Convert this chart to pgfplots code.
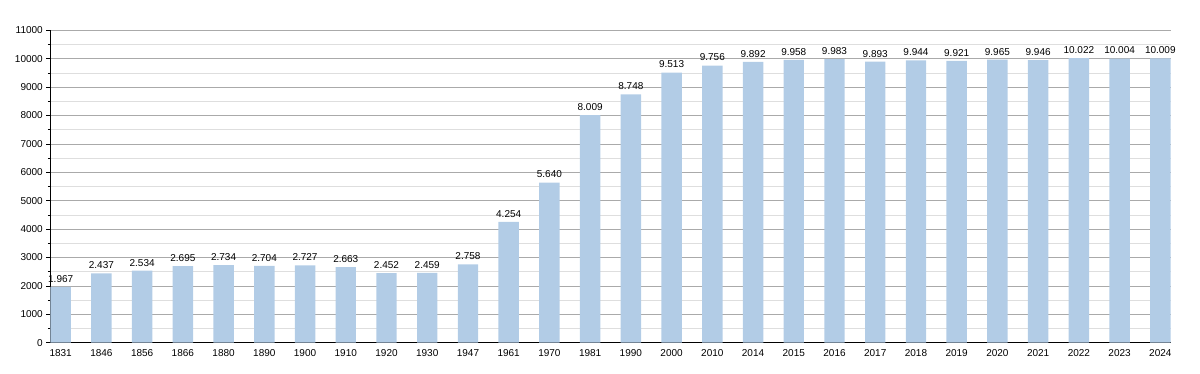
\documentclass[border=0pt]{standalone}
\usepackage{fontspec}
\setmainfont{Liberation Sans}
\usepackage{pgfplots}
\pgfplotsset{compat=1.18}
\usepackage{pgfplotstable}
\definecolor{barc}{RGB}{178,204,230}
\definecolor{majg}{RGB}{170,170,170}
\definecolor{ming}{RGB}{222,222,222}
\pgfplotstableread{
x year val lab
0 1831 1967 1.967
1 1846 2437 2.437
2 1856 2534 2.534
3 1866 2695 2.695
4 1880 2734 2.734
5 1890 2704 2.704
6 1900 2727 2.727
7 1910 2663 2.663
8 1920 2452 2.452
9 1930 2459 2.459
10 1947 2758 2.758
11 1961 4254 4.254
12 1970 5640 5.640
13 1981 8009 8.009
14 1990 8748 8.748
15 2000 9513 9.513
16 2010 9756 9.756
17 2014 9892 9.892
18 2015 9958 9.958
19 2016 9983 9.983
20 2017 9893 9.893
21 2018 9944 9.944
22 2019 9921 9.921
23 2020 9965 9.965
24 2021 9946 9.946
25 2022 10022 10.022
26 2023 10004 10.004
27 2024 10009 10.009
}\datatable
\begin{document}
\begin{tikzpicture}[x=1pt,y=1pt]
\path[use as bounding box] (-50.3,-30.3) rectangle (1149.7,342.7);
\begin{axis}[
  at={(0,0)}, anchor=south west,
  scale only axis,
  width=1120.4pt, height=312.4pt,
  xmin=-0.255, xmax=27.255,
  ymin=0, ymax=11000,
  axis lines*=left,
  axis line style={black, line width=0.8pt},
  xtick=data,
  xticklabels from table={\datatable}{year},
  xtick style={draw=none},
  ytick={0,1000,...,11000},
  minor ytick={500,1500,...,10500},
  ymajorgrids, yminorgrids,
  major grid style={majg, line width=0.6pt},
  minor grid style={ming, line width=0.6pt},
  ytick style={black, line width=0.6pt},
  tick align=outside,
  major tick length=4pt,
  minor tick length=2.5pt,
  tick label style={font=\fontsize{10}{12}\selectfont},
  yticklabel style={/pgf/number format/.cd, 1000 sep={}, assume math mode=true},
  xticklabel style={yshift=1pt},
  scaled y ticks=false,
  enlargelimits=false,
  clip=false,
]
\addplot[ybar, bar width=20.4pt, fill=barc, draw=none,
  point meta=explicit symbolic,
  nodes near coords,
  every node near coord/.append style={font=\fontsize{10}{12}\selectfont, black, yshift=1pt}]
  table[x=x, y=val, meta=lab] {\datatable};
\end{axis}
\end{tikzpicture}
\end{document}
